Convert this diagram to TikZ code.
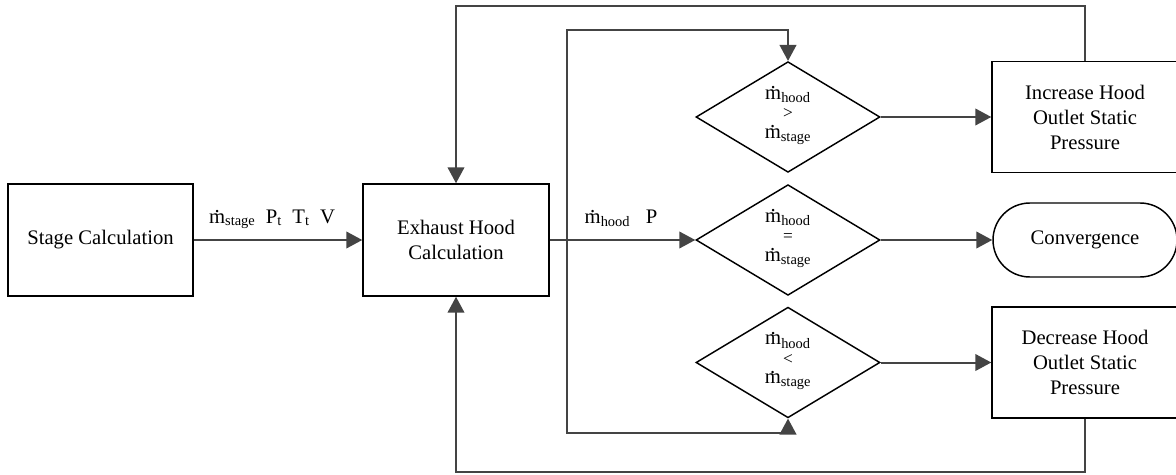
\documentclass[tikz,border=0pt]{standalone}
\usepackage{fontspec}
\setmainfont{Liberation Serif}
\usetikzlibrary{arrows.meta,shapes.geometric}
\newcommand{\mdot}{\ooalign{m\cr\hidewidth\raisebox{0.52em}{.}\hidewidth\cr}}
\newcommand{\mhood}{\mdot\textsubscript{hood}}
\newcommand{\mstage}{\mdot\textsubscript{stage}}
\newcommand{\relsym}[1]{{\fontsize{13pt}{13pt}\selectfont #1}}
\definecolor{linegray}{HTML}{444444}
\begin{document}
\begin{tikzpicture}[x=0.75pt,y=-0.75pt,
  font=\fontsize{15.5pt}{18.75pt}\selectfont,
  boxnode/.style={draw=black,line width=1.1pt,rectangle,inner sep=0pt,align=center,minimum height=84pt},
  decision/.style={draw=black,line width=1.1pt,diamond,shape aspect=1.67,inner sep=0pt,align=center,
    minimum width=138pt,minimum height=83pt,font=\fontsize{15.5pt}{14.6pt}\selectfont},
  conn/.style={draw=linegray,line width=1.5pt},
  arr/.style={conn,-{Triangle[length=12pt,width=12.5pt]}},
  lbl/.style={anchor=base,inner sep=0pt}
]
\useasboundingbox (0,0) rectangle (1176,474);
\clip (0,0) rectangle (1176,474);

\node[boxnode,minimum width=138.75pt] (stage) at (100.5,240) {Stage Calculation};
\node[boxnode,minimum width=139.5pt] (exh) at (456,240) {Exhaust Hood\\Calculation};

\node[decision] (d1) at (788,117) {\mhood\\\relsym{>}\\\mstage};
\node[decision] (d2) at (788,240) {\mhood\\\relsym{=}\\\mstage};
\node[decision] (d3) at (788,362.5) {\mhood\\\relsym{<}\\\mstage};

\node[boxnode,minimum width=139.5pt,minimum height=83.25pt] (inc) at (1085,117) {Increase Hood\\Outlet Static\\Pressure};
\node[draw=black,line width=1.1pt,rectangle,rounded corners=27.7pt,inner sep=0pt,
  minimum width=138pt,minimum height=55.5pt] (conv) at (1085,240) {Convergence};
\node[boxnode,minimum width=139.5pt,minimum height=83.25pt] (dec) at (1085,362.5) {Decrease Hood\\Outlet Static\\Pressure};

\node[lbl] (lab1) at (272,223) {\mstage\ \ P\textsubscript{t}\ \ T\textsubscript{t}\ \ V};
\node[lbl] (lab2) at (621,223) {\mhood\ \ \ P};

\coordinate (j) at (567,240);
\coordinate (jt) at (567,30);
\coordinate (jb) at (567,433);
\coordinate (ot) at (456,6);
\coordinate (ob) at (456,472);

\draw[arr] (stage.east) -- (exh.west);
\draw[arr] (exh.east) -- (d2.west);
\draw[arr] (j) -- (jt) -| (d1.north);
\draw[arr] (j) -- (jb) -| (d3.south);
\draw[arr] (d1.east) -- (inc.west);
\draw[arr] (d2.east) -- (conv.west);
\draw[arr] (d3.east) -- (dec.west);
\draw[arr] (inc.north) |- (ot) -- (exh.north);
\draw[arr] (dec.south) |- (ob) -- (exh.south);
\end{tikzpicture}
\end{document}
